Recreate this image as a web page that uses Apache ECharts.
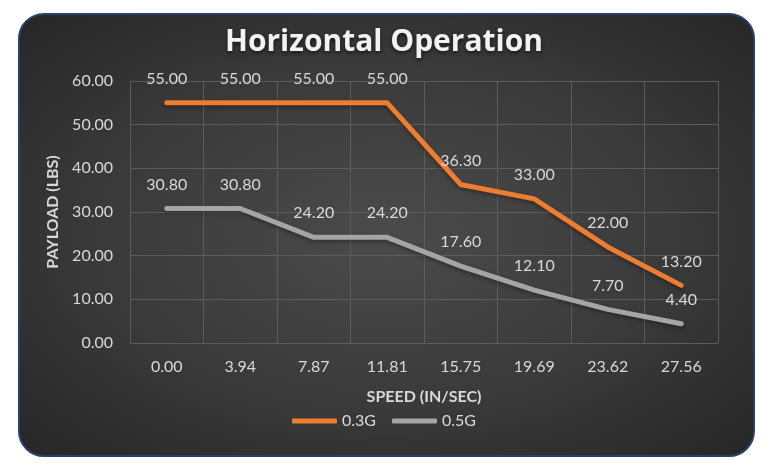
<!DOCTYPE html>
<html>
<head>
<meta charset="utf-8">
<script src="https://cdn.jsdelivr.net/npm/echarts@6/dist/echarts.min.js"></script>
<style>
  html, body { margin: 0; padding: 0; background: #fff; }
  #card {
    position: absolute; left: 18px; top: 13px; width: 733px; height: 440px;
    border: 2px solid #2b3f6b; border-radius: 26px;
    background: radial-gradient(ellipse at 50% 50%, #4b4b4b 0%, #3a3a3a 55%, #262626 100%);
  }
  #chart { position: absolute; left: 0; top: 0; width: 768px; height: 469px; }
</style>
</head>
<body>
<div id="card"></div>
<div id="chart"></div>
<script>
const speeds = ["0.00", "3.94", "7.87", "11.81", "15.75", "19.69", "23.62", "27.56"];
const payload03 = [55.0, 55.0, 55.0, 55.0, 36.3, 33.0, 22.0, 13.2];
const payload05 = [30.8, 30.8, 24.2, 24.2, 17.6, 12.1, 7.7, 4.4];

const chart = echarts.init(document.getElementById("chart"));
const font = "Lato, 'Open Sans', sans-serif";
const labelColor = "#d9d9d9";

function lineSeries(name, data, color) {
  return {
    name: name,
    type: "line",
    data: data,
    symbol: "circle",
    symbolSize: 0,
    showSymbol: true,
    lineStyle: { color: color, width: 5, cap: "round", join: "round",
      shadowColor: "rgba(0,0,0,0.35)", shadowBlur: 4, shadowOffsetY: 2 },
    itemStyle: { color: color },
    label: {
      show: true, position: "top", distance: 16,
      color: labelColor, fontSize: 16, fontFamily: font,
      formatter: p => p.value.toFixed(2),
    },
  };
}

chart.setOption({
  backgroundColor: "transparent",
  title: {
    text: "Horizontal Operation",
    left: "center", top: 22,
    textStyle: { color: "#f2f2f2", fontSize: 30, fontWeight: "bold", fontFamily: "'Open Sans', sans-serif",
      textShadowColor: "rgba(0,0,0,0.6)", textShadowBlur: 4, textShadowOffsetY: 2 },
  },
  grid: { left: 130, right: 50, top: 81, bottom: 126 },
  legend: {
    bottom: 35, left: "center",
    icon: "roundRect", itemWidth: 45, itemHeight: 5, itemGap: 16,
    textStyle: { color: labelColor, fontSize: 16, fontFamily: font },
    data: ["0.3G", "0.5G"],
  },
  xAxis: {
    type: "category", data: speeds, boundaryGap: true,
    name: "SPEED (IN/SEC)", nameLocation: "middle", nameGap: 46,
    nameTextStyle: { color: labelColor, fontSize: 16, fontWeight: "bold", fontFamily: font },
    axisLine: { show: false }, axisTick: { show: false },
    axisLabel: { color: labelColor, fontSize: 16, fontFamily: font, margin: 16 },
    splitLine: { show: true, lineStyle: { color: "#5c5c5c", width: 1 } },
  },
  yAxis: {
    type: "value", min: 0, max: 60, interval: 10,
    name: "PAYLOAD (LBS)", nameLocation: "middle", nameGap: 68,
    nameTextStyle: { color: labelColor, fontSize: 16, fontWeight: "bold", fontFamily: font },
    axisLine: { show: false }, axisTick: { show: false },
    axisLabel: { color: labelColor, fontSize: 16, fontFamily: font, margin: 17,
      formatter: v => v.toFixed(2) },
    splitLine: { lineStyle: { color: "#5c5c5c", width: 1 } },
  },
  series: [
    lineSeries("0.3G", payload03, "#ed7d31"),
    lineSeries("0.5G", payload05, "#a5a5a5"),
  ],
});
</script>
</body>
</html>
